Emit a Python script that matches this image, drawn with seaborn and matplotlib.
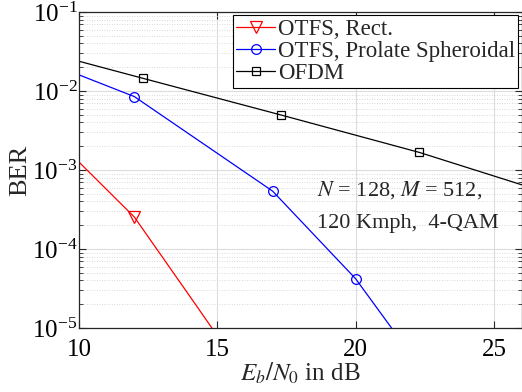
import matplotlib
matplotlib.use("Agg")
import matplotlib.pyplot as plt
import matplotlib.ticker as mticker
import seaborn as sns

# data
snr_rect = [10, 12, 14, 16]
ber_rect = [1.26e-3, 2.54e-4, 2.54e-5, 2.5e-6]

snr_prolate = [10, 12, 17, 20, 22]
ber_prolate = [1.6e-2, 8.5e-3, 5.4e-4, 4.2e-5, 4.6e-6]

snr_ofdm = [10, 12.3, 17.3, 22.3, 26]
ber_ofdm = [2.38e-2, 1.45e-2, 4.97e-3, 1.67e-3, 6.5e-4]

xticks = [10, 15, 20, 25]

sns.set_style("ticks")
plt.rcParams["font.family"] = ["Liberation Serif", "DejaVu Serif"]
plt.rcParams["mathtext.fontset"] = "stix"
plt.rcParams["xtick.direction"] = "in"
plt.rcParams["ytick.direction"] = "in"

fig = plt.figure(figsize=(5.22, 3.92), dpi=100)
ax = fig.add_axes([0.1513, 0.1633, 0.848, 0.8061])
ax.set_yscale("log")

sns.lineplot(x=snr_rect, y=ber_rect, ax=ax, color="red", lw=0.9,
             marker="v", markevery=[1], ms=8, mfc="none", mec="red", mew=0.9,
             label="OTFS, Rect.", sort=False)
sns.lineplot(x=snr_prolate, y=ber_prolate, ax=ax, color="blue", lw=0.9,
             marker="o", markevery=[1, 2, 3], ms=7, mfc="none", mec="blue", mew=0.9,
             label="OTFS, Prolate Spheroidal", sort=False)
sns.lineplot(x=snr_ofdm, y=ber_ofdm, ax=ax, color="black", lw=0.9,
             marker="s", markevery=[1, 2, 3], ms=6, mfc="none", mec="black", mew=0.9,
             label="OFDM", sort=False)

ax.set_xlim(10, 26)
ax.set_ylim(1e-5, 1e-1)
ax.set_xticks(xticks)
ax.yaxis.set_major_locator(mticker.LogLocator(base=10, numticks=10))
ax.yaxis.set_minor_locator(mticker.LogLocator(base=10, subs=range(2, 10), numticks=20))
ax.yaxis.set_minor_formatter(mticker.NullFormatter())

ax.grid(True, which="major", color="#dcdcdc", lw=0.8, ls="-")
ax.grid(True, which="minor", axis="y", color="#cccccc", lw=0.6, ls=(0, (1, 2)))
ax.set_axisbelow(True)

for s in ax.spines.values():
    s.set_color("#262626")
    s.set_linewidth(0.9)
ax.tick_params(which="both", top=True, right=True, colors="#262626", labelsize=18,
               labelcolor="black")
ax.tick_params(which="major", length=5)
ax.tick_params(which="minor", length=3)
ax.tick_params(axis="y", which="major", pad=1)
ax.tick_params(axis="x", which="major", pad=8)

ax.set_xlabel(r"$E_b/N_0$ in dB", fontsize=18, labelpad=0)
ax.set_ylabel("BER", fontsize=19, labelpad=0.5)

ax.text(18.6, 5.6e-4, r"$N$ = 128, $M$ = 512,", fontsize=16, ha="left", va="center")
ax.text(18.6, 2.1e-4, "120 Kmph,  4-QAM", fontsize=16, ha="left", va="center")

leg = ax.legend(loc="upper right", fontsize=16.5, frameon=True, fancybox=False,
                edgecolor="black", framealpha=1, borderaxespad=0.15,
                handlelength=1.7, handletextpad=0.1, labelspacing=0.05,
                borderpad=0.15)
leg.get_frame().set_linewidth(0.8)

fig.savefig("out.png", dpi=100)
